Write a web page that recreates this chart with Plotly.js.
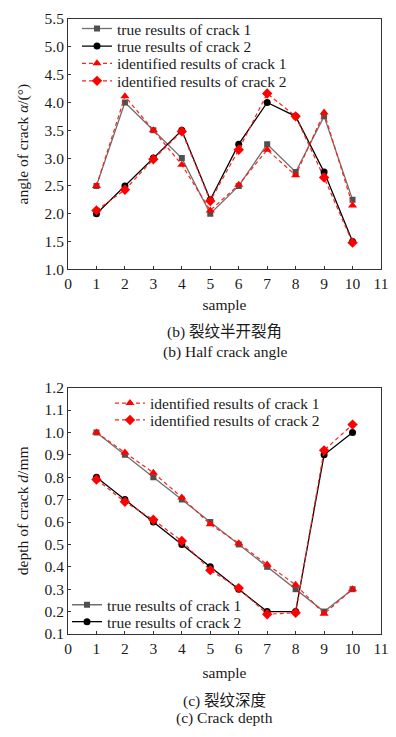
<!DOCTYPE html>
<html>
<head>
<meta charset="utf-8">
<script src="https://cdn.plot.ly/plotly-3.0.1.min.js"></script>
<style>html,body{margin:0;padding:0;background:#fff;}#chart{width:396px;height:737px;}</style>
</head>
<body>
<div id="chart"></div>
<script>
const samples = [1, 2, 3, 4, 5, 6, 7, 8, 9, 10];
const xTicks = [0, 1, 2, 3, 4, 5, 6, 7, 8, 9, 10, 11];

// (b) half crack angle
const angleTrue1 = [2.5, 4.0, 3.5, 3.0, 2.0, 2.5, 3.25, 2.75, 3.75, 2.25];
const angleTrue2 = [2.0, 2.5, 3.0, 3.5, 2.25, 3.25, 4.0, 3.75, 2.75, 1.5];
const angleId1 = [2.5, 4.11, 3.5, 2.88, 2.06, 2.52, 3.15, 2.69, 3.82, 2.15];
const angleId2 = [2.06, 2.43, 2.98, 3.48, 2.23, 3.15, 4.16, 3.75, 2.65, 1.48];

// (c) crack depth
const depthTrue1 = [1.0, 0.9, 0.8, 0.7, 0.6, 0.5, 0.4, 0.3, 0.2, 0.3];
const depthTrue2 = [0.8, 0.7, 0.6, 0.5, 0.4, 0.3, 0.2, 0.2, 0.9, 1.0];
const depthId1 = [1.0, 0.91, 0.82, 0.71, 0.59, 0.505, 0.41, 0.32, 0.19, 0.30];
const depthId2 = [0.79, 0.69, 0.61, 0.515, 0.385, 0.305, 0.188, 0.195, 0.92, 1.035];

const names = ['true results of crack 1', 'true results of crack 2', 'identified results of crack 1', 'identified results of crack 2'];
const captionsB = ['(b) 裂纹半开裂角', '(b) Half crack angle'];
const captionsC = ['(c) 裂纹深度', '(c) Crack depth'];

const FONT = 'Liberation Serif';
const CJKFONT = 'Liberation Serif, Noto Sans CJK SC';

const styles = [
  {line: {color: '#707070', width: 1.3}, marker: {symbol: 'square', size: 6, color: '#505050'}},
  {line: {color: '#000000', width: 1.3}, marker: {symbol: 'circle', size: 7, color: '#000000'}},
  {line: {color: '#ff2020', width: 1.2, dash: '4px,3px'}, marker: {symbol: 'triangle-up', size: 8, color: '#ff0000'}},
  {line: {color: '#ff2020', width: 1.2, dash: '4px,3px'}, marker: {symbol: 'diamond', size: 8, color: '#ff0000'}}
];

function tr(y, i, xa, ya, legend) {
  return Object.assign({
    x: samples, y: y, name: names[i], type: 'scatter', mode: 'lines+markers',
    xaxis: xa, yaxis: ya, legend: legend, showlegend: true
  }, JSON.parse(JSON.stringify(styles[i])));
}

const data = [
  tr(angleTrue1, 0, 'x', 'y', 'legend'),
  tr(angleTrue2, 1, 'x', 'y', 'legend2'),
  tr(angleId1, 2, 'x', 'y', 'legend3'),
  tr(angleId2, 3, 'x', 'y', 'legend4'),
  tr(depthTrue1, 0, 'x2', 'y2', 'legend7'),
  tr(depthTrue2, 1, 'x2', 'y2', 'legend8'),
  tr(depthId1, 2, 'x2', 'y2', 'legend5'),
  tr(depthId2, 3, 'x2', 'y2', 'legend6')
];

const axisCommon = {
  showline: true, linecolor: '#333', linewidth: 1, mirror: true,
  ticks: 'inside', ticklen: 3, tickcolor: '#333', showgrid: false, zeroline: false,
  tickfont: {family: FONT, size: 15.5, color: '#1a1a1a'}
};

const layout = {
  width: 396, height: 737,
  margin: {l: 68, r: 15, t: 15, b: 103},
  paper_bgcolor: '#fff', plot_bgcolor: '#fff',
  font: {family: FONT, size: 15.5, color: '#1a1a1a'},
  xaxis: Object.assign({}, axisCommon, {anchor: 'y', domain: [0, 1], range: [0, 11], tickvals: xTicks,
    title: {text: 'sample', font: {family: FONT, size: 15.5}, standoff: 8}}),
  yaxis: Object.assign({}, axisCommon, {anchor: 'x', domain: [0.5929, 1], range: [1.0, 5.5], dtick: 0.5, tickformat: '.1f',
    title: {text: 'angle of crack <i>α</i>/(°)', font: {family: FONT, size: 15.5}, standoff: 12}}),
  xaxis2: Object.assign({}, axisCommon, {anchor: 'y2', domain: [0, 1], range: [0, 11], tickvals: xTicks,
    title: {text: 'sample', font: {family: FONT, size: 15.5}, standoff: 11}}),
  yaxis2: Object.assign({}, axisCommon, {anchor: 'x2', domain: [0, 0.4006], range: [0.1, 1.2], dtick: 0.1, tickformat: '.1f',
    title: {text: 'depth of crack <i>d</i>/mm', font: {family: FONT, size: 15.5}, standoff: 12}}),
  annotations: [
    {text: captionsB[0]}, {text: captionsB[1]}, {text: captionsC[0]}, {text: captionsC[1]}
  ]
};

const plotTop = 15, plotH = 737 - 15 - 103, plotL = 68, plotW = 396 - 68 - 15;
function py(pix) { return 1 - (pix - plotTop) / plotH; }
function px(pix) { return (pix - plotL) / plotW; }

// one legend per entry: [text-left pixel, row-centre pixel]
const legendPos = [[117, 25], [117, 42.7], [117, 60], [117, 77.7], [150, 402], [150, 419], [107, 605], [107, 622]];
legendPos.forEach((p, i) => {
  const key = i === 0 ? 'legend' : 'legend' + (i + 1);
  layout[key] = {x: px(p[0] - 40), y: py(p[1]), xanchor: 'left', yanchor: 'middle',
    bgcolor: 'rgba(0,0,0,0)', borderwidth: 0, itemwidth: 30,
    font: {family: FONT, size: 15.5, color: '#1a1a1a'}};
});

const capY = [330, 350, 701, 719];
layout.annotations.forEach((a, i) => {
  Object.assign(a, {xref: 'paper', yref: 'paper', x: 0.5, showarrow: false});
  a.y = py(capY[i]); a.yanchor = 'middle'; a.xanchor = 'center';
  a.font = {family: (i % 2 === 0) ? CJKFONT : FONT, size: 15.5, color: '#1a1a1a'};
});

Plotly.newPlot('chart', data, layout, {displayModeBar: false, staticPlot: true});
</script>
</body>
</html>
